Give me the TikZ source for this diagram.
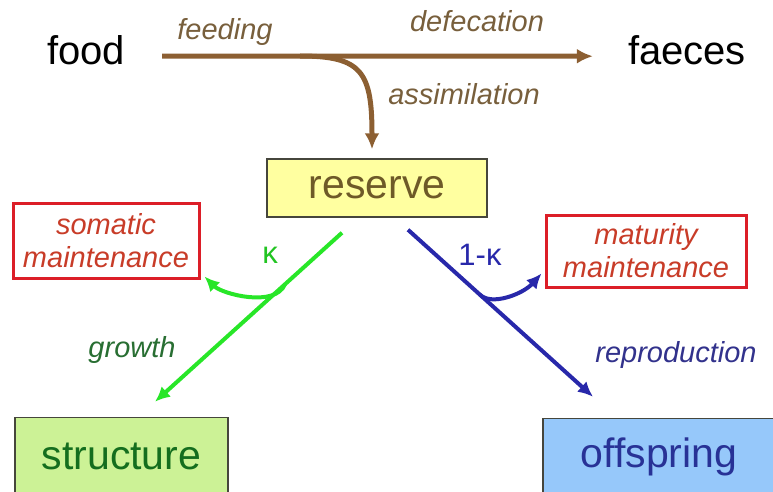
\documentclass[tikz,border=0pt]{standalone}
\usepackage{fontspec}
\setmainfont{Liberation Sans}
\usetikzlibrary{arrows.meta}
\definecolor{flowbrown}{RGB}{140,95,50}
\definecolor{labbrown}{RGB}{120,95,60}
\definecolor{boxgrey}{RGB}{70,70,60}
\definecolor{resfill}{RGB}{255,255,160}
\definecolor{restext}{RGB}{110,90,40}
\definecolor{maintred}{RGB}{220,30,40}
\definecolor{mainttext}{RGB}{200,60,40}
\definecolor{kgreen}{RGB}{40,230,40}
\definecolor{growtext}{RGB}{40,110,50}
\definecolor{strucfill}{RGB}{204,242,150}
\definecolor{structext}{RGB}{20,110,30}
\definecolor{kblue}{RGB}{40,40,170}
\definecolor{reprotext}{RGB}{50,50,140}
\definecolor{offfill}{RGB}{150,200,250}
\definecolor{offtext}{RGB}{40,50,150}
\begin{document}
\begin{tikzpicture}[x=1pt, y=-1pt,
  word/.style={font=\fontsize{40}{44}\selectfont, inner sep=0pt, anchor=base},
  lab/.style={font=\fontsize{29}{33}\selectfont\itshape, inner sep=0pt, anchor=base},
  pool/.style={draw=boxgrey, line width=1.5pt, font=\fontsize{41}{44}\selectfont, inner sep=0pt},
  maint/.style={draw=maintred, line width=3pt, font=\fontsize{29}{33}\selectfont\itshape,
    text=mainttext, align=center, inner sep=0pt},
  flow/.style={line width=5pt, -{Latex[length=16pt,width=15pt]}},
  split/.style={line width=4pt, -{Latex[length=15pt,width=14pt]}}
]
\useasboundingbox (0,0) rectangle (773,492);

% Food in, faeces out
\node[word] (food) at (86,65) {food};
\node[word] (faeces) at (687,65) {faeces};
\node[lab, text=labbrown] (feeding) at (225,40) {feeding};
\node[lab, text=labbrown] (defecation) at (477,32) {defecation};
\node[lab, text=labbrown] (assimilation) at (464,105) {assimilation};
\draw[flow, flowbrown] ([xshift=37pt,yshift=-5.5pt]food.east) -- ([xshift=-35pt,yshift=-5.5pt]faeces.west);

% Reserve
\node[pool, fill=resfill, text=restext, minimum width=220pt, minimum height=58pt] (reserve) at (377,188) {reserve};
\coordinate (branch) at (300,56);
\draw[flow, flowbrown, shorten >=9pt] (branch) .. controls (362,56) and (372,72) .. ([xshift=-5pt]reserve.north);

% Sinks
\node[pool, fill=strucfill, text=structext, minimum width=213pt, minimum height=77pt] (structure) at (121.5,456) {structure};
\node[pool, fill=offfill, text=offtext, minimum width=232pt, minimum height=77pt] (offspring) at (659,457) {offspring};
\node[maint, minimum width=186pt, minimum height=75pt] (somatic) at (106,240.5) {somatic\\maintenance};
\node[maint, minimum width=200pt, minimum height=72pt] (maturity) at (646,251) {maturity\\maintenance};

% Kappa rule
\draw[split, kgreen] ([xshift=-35pt,yshift=-15pt]reserve.south) -- coordinate[pos=0.305] (kbend) ([xshift=33.5pt,yshift=15pt]structure.north);
\draw[split, kgreen] (kbend) .. controls (275,308) and (222,294) .. ([xshift=4pt,yshift=3pt]somatic.south east);
\draw[split, kblue] ([xshift=31pt,yshift=-12pt]reserve.south) -- coordinate[pos=0.39] (jbend) ([xshift=-66pt,yshift=21pt]offspring.north);
\draw[split, kblue] (jbend) .. controls (492,306) and (523,294) .. ([xshift=-3pt,yshift=15pt]maturity.south west);
\node[font=\fontsize{31}{33}\selectfont, text=kgreen!85!black] (kappa) at (270,255) {κ};
\node[font=\fontsize{31}{33}\selectfont, text=kblue] (onekappa) at (480,255) {1-κ};
\node[lab, text=growtext] (growth) at (132,357) {growth};
\node[lab, text=reprotext] (reproduction) at (676,362) {reproduction};

\end{tikzpicture}
\end{document}
